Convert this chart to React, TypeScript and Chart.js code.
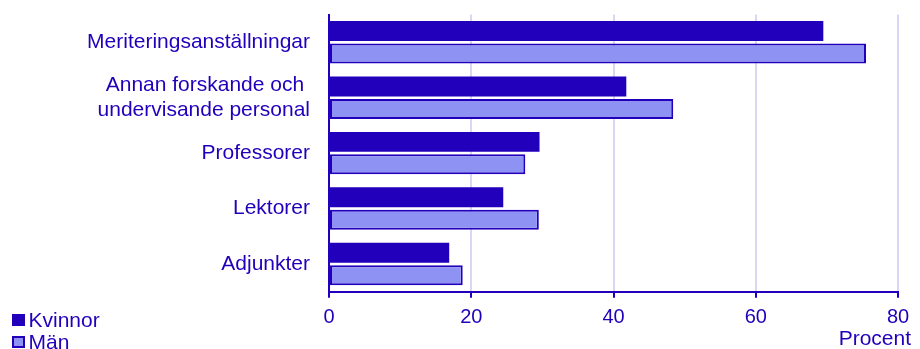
import React, { useEffect, useRef } from "react";
import { Chart, registerables } from "chart.js";

Chart.register(...registerables);

const categories: (string | string[])[] = [
  "Meriteringsanställningar",
  ["Annan forskande och ", "undervisande personal"],
  "Professorer",
  "Lektorer",
  "Adjunkter",
];
const kvinnor = [69.5, 41.8, 29.6, 24.5, 16.9];
const man = [75.5, 48.4, 27.6, 29.5, 18.8];
const seriesNames = ["Kvinnor", "Män"];
const xTicks = [0, 20, 40, 60, 80];
const unitLabel = "Procent";

const DARK = "#2200bb";
const LIGHT = "#8e93f3";
const FONT = "'Liberation Sans', Arial, sans-serif";

const unitPlugin = {
  id: "unitLabel",
  afterDraw(chart: any) {
    const { ctx, chartArea } = chart;
    ctx.save();
    ctx.fillStyle = DARK;
    ctx.font = `21px ${FONT}`;
    ctx.textAlign = "right";
    ctx.textBaseline = "middle";
    ctx.fillText(unitLabel, chartArea.right + 13, 331);
    ctx.restore();
  },
};

export default function App() {
  const ref = useRef<HTMLCanvasElement | null>(null);
  useEffect(() => {
    document.documentElement.style.overflow = "hidden";
    document.body.style.overflow = "hidden";
    const chart = new Chart(ref.current as HTMLCanvasElement, {
      type: "bar",
      data: {
        labels: categories,
        datasets: [
          {
            label: seriesNames[0],
            data: kvinnor,
            backgroundColor: DARK,
            borderColor: DARK,
            borderWidth: 0,
            categoryPercentage: 0.81,
            barPercentage: 0.89,
          },
          {
            label: seriesNames[1],
            data: man,
            backgroundColor: LIGHT,
            borderColor: DARK,
            borderWidth: 2,
            borderSkipped: false,
            categoryPercentage: 0.81,
            barPercentage: 0.89,
          },
        ],
      },
      options: {
        indexAxis: "y",
        animation: false,
        responsive: true,
        maintainAspectRatio: false,
        layout: { padding: { top: 6.5, right: 14, left: 0, bottom: 0 } },
        plugins: {
          legend: { display: false },
          tooltip: { enabled: false },
          title: { display: false },
        },
        scales: {
          x: {
            min: 0,
            max: 80,
            afterBuildTicks: (axis: any) => {
              axis.ticks = xTicks.map((v) => ({ value: v }));
            },
            afterFit: (axis: any) => {
              axis.height = 76.3;
              axis.paddingLeft = 0;
              axis.paddingRight = 0;
            },
            ticks: {
              color: DARK,
              font: { family: FONT, size: 20 },
              padding: 8,
              maxRotation: 0,
            },
            grid: {
              color: "rgba(34,0,187,0.16)",
              lineWidth: 2,
              drawTicks: true,
              tickLength: 6,
              tickColor: DARK,
              tickWidth: 2,
            },
            border: { color: DARK, width: 2 },
          },
          y: {
            afterFit: (axis: any) => {
              axis.width = 321;
              axis.paddingTop = 0;
              axis.paddingBottom = 0;
            },
            ticks: {
              color: DARK,
              font: { family: FONT, size: 21 },
              padding: 19,
              autoSkip: false,
            },
            grid: { display: false, drawTicks: false },
            border: { color: DARK, width: 2 },
          },
        },
      },
      plugins: [unitPlugin],
    } as any);
    return () => chart.destroy();
  }, []);

  const legendItem = (top: number, color: string, border: string, text: string) => (
    <div
      style={{
        position: "absolute",
        left: 4,
        top,
        display: "flex",
        alignItems: "center",
        fontFamily: FONT,
        fontSize: 21,
        color: DARK,
        lineHeight: "24px",
        whiteSpace: "nowrap",
      }}
    >
      <span
        style={{
          display: "inline-block",
          width: 12.5,
          height: 12.5,
          boxSizing: "border-box",
          background: color,
          border: `2px solid ${border}`,
          marginRight: 4,
        }}
      />
      <span>{text}</span>
    </div>
  );

  return (
    <div style={{ position: "relative", height: 360 }}>
      <div style={{ position: "relative", height: 360 }}>
        <canvas ref={ref} />
      </div>
      {legendItem(300, DARK, DARK, seriesNames[0])}
      {legendItem(322, LIGHT, DARK, seriesNames[1])}
    </div>
  );
}
